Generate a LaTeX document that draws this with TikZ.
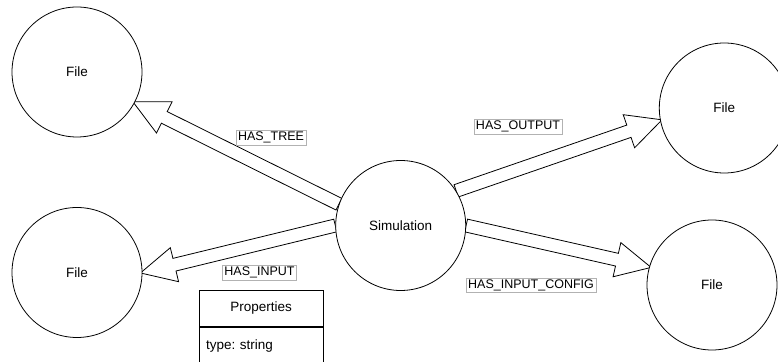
\documentclass[tikz,border=0pt]{standalone}
\usepackage{fontspec}
\setmainfont{Liberation Sans}
\usetikzlibrary{calc}
\pgfdeclarelayer{bg}
\pgfsetlayers{bg,main}
\frenchspacing

\tikzset{
  entity/.style={circle, draw=black, line width=0.8pt, fill=white,
    minimum size=130pt, inner sep=0pt, font=\fontsize{13.5}{16}\selectfont},
  rel/.style={draw=black!30, line width=0.5pt, fill=white, inner xsep=2pt,
    inner ysep=0pt, minimum height=14.5pt, font=\fontsize{12.5}{14}\selectfont},
  flexline/.style={draw=black, line width=0.8pt, fill=white, line join=miter},
  prop/.style={draw=black, line width=0.8pt, fill=white, minimum width=124.3pt,
    inner sep=0pt, font=\fontsize{13.5}{16}\selectfont},
}

% hollow wide arrow from #1 to #2 (body half width 6.5, head half width 17.5, head length 35)
\newcommand{\flexarrow}[2]{%
  \coordinate (fa-s) at (#1);
  \coordinate (fa-t) at ($(#2)!-2pt!(#1)$);
  \coordinate (fa-h) at ($(fa-t)!35pt!(fa-s)$);
  \path[flexline] ($(fa-s)!6.5pt!90:(fa-t)$) -- ($(fa-h)!6.5pt!90:(fa-t)$)
    -- ($(fa-h)!17.5pt!90:(fa-t)$) -- (fa-t) -- ($(fa-h)!17.5pt!-90:(fa-t)$)
    -- ($(fa-h)!6.5pt!-90:(fa-t)$) -- ($(fa-s)!6.5pt!-90:(fa-t)$) -- cycle;
}

\begin{document}
\begin{tikzpicture}[x=1pt, y=1pt]
  \useasboundingbox (0,0) rectangle (778,361);

  % entities
  \node[entity] (f1) at (77,289) {File};
  \node[entity] (f2) at (77,88.5) {File};
  \node[entity] (sim) at (400.7,135.5) {Simulation};
  \node[entity] (f3) at (724.3,253) {File};
  \node[entity] (f4) at (712,76) {File};

  % relationships
  \begin{pgfonlayer}{bg}
    \flexarrow{sim.161}{f1.-28.8}
    \flexarrow{sim.180}{f2.0}
    \flexarrow{sim.32.4}{f3.-169}
    \flexarrow{sim.0}{f4.164.7}
  \end{pgfonlayer}

  \node[rel] (lt) at (271,223.3) {HAS\_TREE};
  \node[rel] (li) at (259.5,88.3) {HAS\_INPUT};
  \node[rel] (lo) at (518,234.3) {HAS\_OUTPUT};
  \node[rel] (lc) at (531,75.5) {HAS\_INPUT\_CONFIG};

  % property table of HAS_INPUT
  \node[prop, minimum height=36.7pt] (prophead) at (261.15,52.65) {Properties};
  \node[prop, anchor=north, minimum height=37pt, text width=110.3pt,
    inner xsep=7pt, align=left] (propbody) at (prophead.south) {type: string};
\end{tikzpicture}
\end{document}
